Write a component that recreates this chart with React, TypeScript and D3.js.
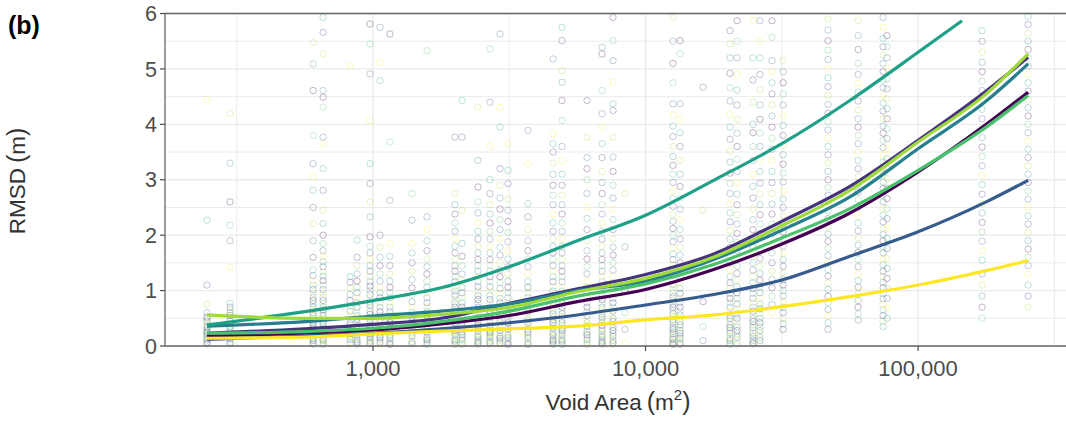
import React from 'react';
import * as d3 from 'd3';

const W = 1066;
const H = 424;

// ---- smooth-line data (x = void area m², y = RMSD m) ----
const lineAreas = [246, 562, 1000, 1778, 3162, 5623, 10000, 17783, 31623, 56234, 100000, 177828, 253500];
const tealAreas = [246, 562, 1000, 1778, 3162, 5623, 10000, 17783, 31623, 56234, 100000, 145000];

const rmsdS1 = [0.18, 0.23, 0.29, 0.40, 0.55, 0.80, 1.02, 1.38, 1.84, 2.40, 3.14, 4.00, 4.58];
const rmsdS2 = [0.23, 0.31, 0.39, 0.50, 0.77, 1.03, 1.29, 1.66, 2.25, 2.88, 3.71, 4.60, 5.21];
const rmsdS3 = [0.12, 0.18, 0.23, 0.31, 0.42, 0.56, 0.74, 0.93, 1.19, 1.62, 2.06, 2.60, 2.99];
const rmsdS4 = [0.36, 0.44, 0.54, 0.63, 0.76, 1.00, 1.17, 1.56, 2.09, 2.69, 3.56, 4.42, 5.09];
const rmsdS5 = [0.38, 0.62, 0.82, 1.05, 1.43, 1.90, 2.36, 2.99, 3.65, 4.43, 5.30, 5.87];
const rmsdS6 = [0.23, 0.26, 0.32, 0.44, 0.63, 0.90, 1.12, 1.47, 1.95, 2.48, 3.17, 3.95, 4.52];
const rmsdS7 = [0.56, 0.50, 0.50, 0.57, 0.70, 0.98, 1.22, 1.60, 2.17, 2.81, 3.68, 4.55, 5.27];
const rmsdS8 = [0.14, 0.16, 0.22, 0.27, 0.31, 0.36, 0.47, 0.56, 0.71, 0.89, 1.10, 1.36, 1.54];

const seriesValues = [rmsdS1, rmsdS2, rmsdS3, rmsdS4, rmsdS5, rmsdS6, rmsdS7, rmsdS8];
const seriesAreas = [lineAreas, lineAreas, lineAreas, lineAreas, tealAreas, lineAreas, lineAreas, lineAreas];
const seriesColors = ['#440154', '#46337E', '#365C8D', '#277F8E', '#1FA187', '#4AC16D', '#9FDA3A', '#FDE725'];

// ---- scatter columns (observations) ----
const scatterAreas = [246, 299, 603, 656, 824, 874, 975, 1061, 1154, 1390, 1578, 1999, 2122, 2428, 2686, 2923, 3129, 3703,
  4577, 4939, 6100, 6925, 7598, 8405, 12612, 13390, 16256, 20420, 21670, 24790, 26300, 29110, 31970, 46770, 60260,
  74430, 76940, 171800, 253500];
const scatterValues = [
  [0.04, 0.07, 0.1, 0.12, 0.15, 0.17, 0.2, 0.23, 0.25, 0.28, 0.3, 0.33, 0.36, 0.4, 0.44, 0.48, 0.52, 0.6, 0.75, 1.1, 2.27, 4.45],
  [0.04, 0.07, 0.1, 0.13, 0.16, 0.2, 0.24, 0.28, 0.32, 0.36, 0.4, 0.45, 0.5, 0.55, 0.6, 0.65, 0.7, 0.77, 1.42, 1.9, 2.18, 2.6, 3.3, 4.2],
  [0.03, 0.06, 0.1, 0.13, 0.16, 0.2, 0.24, 0.28, 0.32, 0.36, 0.4, 0.45, 0.5, 0.55, 0.6, 0.65, 0.7, 0.76, 0.82, 0.88, 0.95, 1.02, 1.1, 1.18, 1.27, 1.37, 1.6, 1.9, 2.21, 2.5, 2.81, 3.05, 3.29, 3.8, 4.61, 5.09, 5.48],
  [0.03, 0.06, 0.1, 0.13, 0.16, 0.2, 0.24, 0.28, 0.32, 0.36, 0.4, 0.45, 0.5, 0.55, 0.6, 0.65, 0.7, 0.76, 0.82, 0.88, 0.95, 1.02, 1.1, 1.18, 1.26, 1.34, 1.43, 1.52, 1.62, 1.72, 1.85, 2.0, 2.21, 2.45, 2.81, 3.2, 3.65, 3.77, 4.31, 4.49, 4.61, 5.27, 5.66, 5.93],
  [0.04, 0.08, 0.12, 0.17, 0.22, 0.28, 0.34, 0.4, 0.47, 0.55, 0.63, 0.72, 0.82, 0.93, 1.05, 1.15, 1.25, 5.06],
  [0.03, 0.07, 0.11, 0.15, 0.2, 0.25, 0.3, 0.36, 0.42, 0.48, 0.55, 0.62, 0.7, 0.78, 0.87, 0.96, 1.06, 1.17, 1.3, 1.45, 1.6, 1.91],
  [0.03, 0.06, 0.09, 0.12, 0.15, 0.18, 0.22, 0.26, 0.3, 0.34, 0.38, 0.42, 0.47, 0.52, 0.57, 0.62, 0.68, 0.74, 0.8, 0.86, 0.93, 1.0, 1.08, 1.16, 1.25, 1.35, 1.45, 1.56, 1.68, 1.8, 1.97, 2.33, 2.6, 2.93, 3.29, 4.07, 4.91, 5.45, 5.81],
  [0.03, 0.07, 0.11, 0.15, 0.2, 0.25, 0.3, 0.36, 0.42, 0.48, 0.55, 0.62, 0.7, 0.78, 0.87, 0.96, 1.06, 1.17, 1.3, 1.45, 1.6, 1.78, 2.0, 4.79, 5.12, 5.75],
  [0.03, 0.07, 0.11, 0.15, 0.2, 0.25, 0.3, 0.36, 0.42, 0.48, 0.55, 0.62, 0.7, 0.78, 0.87, 0.96, 1.06, 1.17, 1.3, 1.45, 1.62, 1.85, 2.63, 3.68, 5.63],
  [0.04, 0.08, 0.13, 0.18, 0.24, 0.3, 0.37, 0.44, 0.52, 0.6, 0.7, 0.8, 0.92, 1.05, 1.2, 1.35, 1.5, 1.68, 1.85, 2.27, 2.75],
  [0.03, 0.07, 0.11, 0.15, 0.2, 0.25, 0.3, 0.36, 0.42, 0.48, 0.55, 0.62, 0.7, 0.78, 0.87, 0.96, 1.06, 1.17, 1.3, 1.43, 1.57, 1.72, 1.9, 2.1, 2.33, 5.33],
  [0.03, 0.06, 0.09, 0.12, 0.16, 0.2, 0.24, 0.28, 0.32, 0.37, 0.42, 0.47, 0.52, 0.58, 0.64, 0.7, 0.77, 0.84, 0.91, 0.99, 1.07, 1.16, 1.25, 1.35, 1.45, 1.56, 1.68, 1.8, 1.93, 2.07, 2.22, 2.38, 2.55, 2.75, 3.77],
  [0.03, 0.07, 0.11, 0.15, 0.2, 0.25, 0.3, 0.36, 0.42, 0.48, 0.55, 0.62, 0.7, 0.78, 0.87, 0.96, 1.06, 1.17, 1.3, 1.45, 1.62, 1.85, 2.45, 3.77, 4.43],
  [0.03, 0.06, 0.09, 0.12, 0.16, 0.2, 0.24, 0.28, 0.32, 0.37, 0.42, 0.47, 0.52, 0.58, 0.64, 0.7, 0.77, 0.84, 0.91, 0.99, 1.07, 1.16, 1.25, 1.35, 1.45, 1.56, 1.68, 1.8, 1.93, 2.07, 2.22, 2.4, 2.6, 2.87, 3.35, 4.31],
  [0.03, 0.06, 0.09, 0.12, 0.16, 0.2, 0.24, 0.28, 0.32, 0.37, 0.42, 0.47, 0.52, 0.58, 0.64, 0.7, 0.77, 0.84, 0.91, 0.99, 1.07, 1.16, 1.25, 1.35, 1.45, 1.56, 1.68, 1.8, 1.93, 2.07, 2.22, 2.38, 2.55, 2.75, 3.0, 3.6, 4.4, 5.36],
  [0.03, 0.06, 0.1, 0.14, 0.18, 0.23, 0.28, 0.33, 0.38, 0.44, 0.5, 0.56, 0.63, 0.7, 0.78, 0.86, 0.95, 1.04, 1.14, 1.25, 1.37, 1.5, 1.64, 1.78, 1.93, 2.1, 2.28, 2.47, 2.67, 2.9, 3.2, 3.95, 4.31, 5.63],
  [0.03, 0.07, 0.11, 0.15, 0.2, 0.25, 0.3, 0.36, 0.42, 0.48, 0.55, 0.62, 0.7, 0.78, 0.87, 0.96, 1.06, 1.17, 1.3, 1.43, 1.57, 1.72, 1.88, 2.05, 2.25, 2.45, 2.65, 2.93, 3.17, 3.65],
  [0.03, 0.07, 0.11, 0.15, 0.2, 0.25, 0.3, 0.36, 0.42, 0.48, 0.55, 0.62, 0.7, 0.78, 0.87, 0.96, 1.06, 1.17, 1.3, 1.43, 1.57, 1.72, 1.9, 2.1, 2.33, 2.57, 3.29, 3.89],
  [0.03, 0.06, 0.09, 0.12, 0.16, 0.2, 0.24, 0.28, 0.32, 0.37, 0.42, 0.47, 0.52, 0.58, 0.64, 0.7, 0.77, 0.84, 0.91, 0.99, 1.07, 1.16, 1.25, 1.35, 1.45, 1.56, 1.68, 1.8, 1.93, 2.07, 2.22, 2.38, 2.55, 2.72, 2.9, 3.1, 3.3, 3.5, 3.65, 3.83, 5.18],
  [0.03, 0.06, 0.09, 0.12, 0.16, 0.2, 0.24, 0.28, 0.32, 0.37, 0.42, 0.47, 0.52, 0.58, 0.64, 0.7, 0.77, 0.84, 0.91, 0.99, 1.07, 1.16, 1.25, 1.35, 1.45, 1.56, 1.68, 1.8, 1.93, 2.07, 2.22, 2.38, 2.55, 2.72, 2.9, 3.1, 3.35, 3.6, 4.07, 4.43, 4.76, 4.97, 5.51, 5.75],
  [0.03, 0.07, 0.11, 0.15, 0.2, 0.25, 0.3, 0.36, 0.42, 0.48, 0.55, 0.62, 0.7, 0.78, 0.87, 0.96, 1.06, 1.17, 1.3, 1.43, 1.57, 1.72, 1.9, 2.1, 2.3, 2.5, 2.75, 3.0, 3.2, 3.4, 3.77, 4.43],
  [0.03, 0.06, 0.09, 0.12, 0.16, 0.2, 0.24, 0.28, 0.32, 0.37, 0.42, 0.47, 0.52, 0.58, 0.64, 0.7, 0.77, 0.84, 0.91, 0.99, 1.07, 1.16, 1.25, 1.35, 1.45, 1.56, 1.68, 1.8, 1.93, 2.07, 2.22, 2.38, 2.55, 2.75, 2.95, 3.15, 3.4, 3.65, 3.95, 4.19, 4.61, 5.27, 5.39],
  [0.03, 0.06, 0.1, 0.14, 0.18, 0.23, 0.28, 0.33, 0.38, 0.44, 0.5, 0.56, 0.63, 0.7, 0.78, 0.86, 0.95, 1.04, 1.14, 1.25, 1.37, 1.5, 1.64, 1.78, 1.93, 2.1, 2.28, 2.47, 2.67, 2.9, 3.15, 3.41, 3.77, 4.25, 4.37, 4.76, 5.15, 5.51, 5.93],
  [0.05, 0.3, 0.6, 1.0, 1.79, 2.75],
  [0.03, 0.06, 0.09, 0.12, 0.15, 0.18, 0.22, 0.26, 0.3, 0.34, 0.38, 0.43, 0.48, 0.53, 0.58, 0.64, 0.7, 0.76, 0.82, 0.89, 0.96, 1.03, 1.11, 1.19, 1.28, 1.37, 1.46, 1.56, 1.66, 1.77, 1.88, 2.0, 2.12, 2.25, 2.38, 2.52, 2.66, 2.8, 2.95, 3.1, 3.26, 3.42, 3.6, 3.78, 3.97, 4.17, 4.37, 4.75, 5.1, 5.5, 5.93],
  [0.03, 0.06, 0.1, 0.14, 0.18, 0.23, 0.28, 0.33, 0.38, 0.44, 0.5, 0.56, 0.63, 0.7, 0.78, 0.86, 0.95, 1.04, 1.14, 1.25, 1.37, 1.5, 1.64, 1.78, 1.93, 2.1, 2.28, 2.47, 2.67, 2.88, 3.1, 3.35, 3.6, 3.85, 4.1, 4.37, 5.27, 5.51],
  [0.1, 0.35, 0.8, 1.5, 2.45, 4.67],
  [0.03, 0.06, 0.1, 0.14, 0.18, 0.23, 0.28, 0.33, 0.38, 0.44, 0.5, 0.56, 0.63, 0.7, 0.78, 0.86, 0.95, 1.04, 1.14, 1.25, 1.37, 1.5, 1.64, 1.78, 1.93, 2.08, 2.24, 2.4, 2.57, 2.75, 2.93, 3.12, 3.32, 3.52, 3.73, 3.95, 4.18, 4.42, 4.66, 4.92, 5.2, 5.45, 5.69],
  [0.04, 0.1, 0.16, 0.22, 0.28, 0.35, 0.42, 0.5, 0.58, 0.67, 0.76, 0.86, 0.96, 1.07, 1.19, 1.31, 1.44, 1.58, 1.72, 1.87, 2.03, 2.2, 2.37, 2.55, 2.74, 2.94, 3.15, 3.37, 3.6, 3.84, 4.09, 4.35, 4.62, 4.9, 5.2, 5.5, 5.87],
  [0.03, 0.06, 0.1, 0.14, 0.18, 0.23, 0.28, 0.33, 0.38, 0.44, 0.5, 0.56, 0.63, 0.7, 0.78, 0.86, 0.95, 1.04, 1.14, 1.25, 1.37, 1.5, 1.64, 1.78, 1.93, 2.1, 2.28, 2.47, 2.67, 2.88, 3.1, 3.35, 3.6, 3.85, 4.0, 4.4, 4.8, 5.2, 5.87],
  [0.04, 0.1, 0.16, 0.22, 0.28, 0.35, 0.42, 0.5, 0.58, 0.67, 0.76, 0.86, 0.96, 1.07, 1.19, 1.31, 1.44, 1.58, 1.72, 1.87, 2.03, 2.2, 2.37, 2.55, 2.74, 2.94, 3.15, 3.37, 3.6, 3.84, 4.09, 4.35, 4.62, 4.9, 5.2, 5.5, 5.87],
  [0.6, 0.75, 0.9, 1.05, 1.2, 1.35, 1.5, 1.68, 1.85, 2.02, 2.2, 2.38, 2.56, 2.75, 2.95, 3.15, 3.35, 3.55, 3.75, 3.95, 4.15, 4.35, 4.55, 4.75, 4.95, 5.15, 5.57, 5.87],
  [0.3, 0.4, 0.5, 0.6, 0.7, 0.8, 0.9, 1.0, 1.1, 1.2, 1.32, 1.44, 1.56, 1.68, 1.8, 1.93, 2.06, 2.2, 2.35, 2.5, 2.65, 2.8, 2.96, 3.12, 3.28, 3.45, 3.62, 3.8, 3.98, 4.16, 4.35, 4.55, 4.75, 4.95, 5.15],
  [0.3, 0.42, 0.54, 0.66, 0.78, 0.9, 1.02, 1.14, 1.26, 1.38, 1.5, 1.63, 1.76, 1.89, 2.02, 2.16, 2.3, 2.44, 2.58, 2.72, 2.86, 3.0, 3.15, 3.3, 3.45, 3.6, 3.75, 3.9, 4.05, 4.2, 4.36, 4.52, 4.68, 4.84, 5.0, 5.17, 5.34, 5.51, 5.7, 5.9],
  [0.47, 0.58, 0.7, 0.82, 0.94, 1.06, 1.18, 1.3, 1.43, 1.56, 1.69, 1.82, 1.95, 2.08, 2.22, 2.36, 2.5, 2.64, 2.78, 2.92, 3.06, 3.2, 3.35, 3.5, 3.65, 3.8, 3.95, 4.1, 4.26, 4.42, 4.58, 4.74, 4.9, 5.1, 5.35, 5.6, 5.87],
  [0.35, 0.45, 0.55, 0.65, 0.75, 0.85, 0.95, 1.05, 1.15, 1.25, 1.35, 1.46, 1.57, 1.68, 1.79, 1.9, 2.01, 2.12, 2.24, 2.36, 2.48, 2.6, 2.72, 2.84, 2.96, 3.08, 3.2, 3.32, 3.45, 3.58, 3.71, 3.84, 3.97, 4.1, 4.24, 4.38, 4.52, 4.66, 4.8, 4.95, 5.1, 5.25, 5.4, 5.55, 5.75, 5.93],
  [0.5, 0.68, 0.86, 1.04, 1.22, 1.4, 1.58, 1.76, 1.94, 2.12, 2.3, 2.48, 2.66, 2.84, 3.02, 3.2, 3.38, 3.56, 3.74, 3.92, 4.1, 4.28, 4.46, 4.64, 4.82, 5.0, 5.2, 5.4, 5.6],
  [0.5, 0.7, 0.9, 1.1, 1.3, 1.55, 1.72, 1.89, 2.06, 2.23, 2.4, 2.57, 2.74, 2.91, 3.08, 3.25, 3.42, 3.59, 3.76, 3.93, 4.1, 4.27, 4.44, 4.61, 4.78, 4.95, 5.12, 5.3, 5.5, 5.69],
  [0.7, 0.9, 1.1, 1.3, 1.45, 1.6, 1.75, 1.9, 2.05, 2.2, 2.35, 2.5, 2.65, 2.8, 2.95, 3.1, 3.25, 3.4, 3.55, 3.7, 3.85, 4.0, 4.15, 4.3, 4.45, 4.6, 4.75, 4.9, 5.05, 5.2, 5.35, 5.5, 5.65, 5.8, 5.95],
];

// ---- axes ----
const xTickValues = [1000, 10000, 100000];
const xTickLabels = ['1,000', '10,000', '100,000'];
const xMinorValues = [316.23, 3162.3, 31623, 316228];
const yTickValues = [0, 1, 2, 3, 4, 5, 6];
const yMinorValues = [0.5, 1.5, 2.5, 3.5, 4.5, 5.5];

const FONT = '"Liberation Sans", Arial, Helvetica, sans-serif';

export default function App() {
  const left = 165;
  const right = 1068;
  const x = d3.scaleLog().domain([172.5, 349000]).range([165, 1066]);
  const y = d3.scaleLinear().domain([0, 6]).range([346, 13.5]);
  const bottom = y(0);
  const top = y(6);

  const line = d3
    .line<[number, number]>()
    .x((d) => x(d[0]))
    .y((d) => y(d[1]))
    .curve(d3.curveMonotoneX);

  const grid = '#ebebeb';
  const axisCol = '#4d4d4d';

  return (
    <div style={{ position: 'absolute', left: 0, top: 0 }}>
      <svg width={W} height={H} style={{ display: 'block', fontFamily: FONT }}>
        <rect x={0} y={0} width={W} height={H} fill="#ffffff" />
        {/* grid */}
        {yMinorValues.map((v) => (
          <line key={'ym' + v} x1={left} x2={right} y1={y(v)} y2={y(v)} stroke={grid} strokeWidth={1} />
        ))}
        {yTickValues.map((v) => (
          <line key={'yg' + v} x1={left} x2={right} y1={y(v)} y2={y(v)} stroke={grid} strokeWidth={1.4} />
        ))}
        {xMinorValues.map((v) => (
          <line key={'xm' + v} x1={x(v)} x2={x(v)} y1={top} y2={bottom} stroke={grid} strokeWidth={1} />
        ))}
        {xTickValues.map((v) => (
          <line key={'xg' + v} x1={x(v)} x2={x(v)} y1={top} y2={bottom} stroke={grid} strokeWidth={1.4} />
        ))}

        {/* scatter */}
        <g fill="none" strokeWidth={1}>
          {scatterAreas.map((a, ci) =>
            scatterValues[ci].map((v, pi) => (
              <circle
                key={ci + '-' + pi}
                cx={x(a)}
                cy={y(v)}
                r={3.2}
                stroke={seriesColors[(pi * 3 + ci) % seriesColors.length]}
                strokeOpacity={0.3}
              />
            ))
          )}
        </g>

        {/* smooth lines */}
        {seriesValues.map((vals, si) => {
          const pts = vals.map((v, i) => [seriesAreas[si][i], v] as [number, number]);
          return (
            <path
              key={'s' + si}
              d={line(pts) || ''}
              fill="none"
              stroke={seriesColors[si]}
              strokeWidth={3.2}
              strokeLinecap="butt"
            />
          );
        })}

        {/* panel border */}
        <line x1={left} x2={right} y1={top} y2={top} stroke="#666" strokeWidth={1.3} />
        <line x1={left} x2={right} y1={bottom} y2={bottom} stroke="#666" strokeWidth={1.3} />
        <line x1={left} x2={left} y1={top} y2={bottom} stroke="#666" strokeWidth={1.3} />

        {/* y axis ticks */}
        {yTickValues.map((v) => (
          <g key={'yt' + v}>
            <line x1={left - 5} x2={left} y1={y(v)} y2={y(v)} stroke={axisCol} strokeWidth={1.2} />
            <text x={left - 8} y={y(v)} dy="0.36em" textAnchor="end" fontSize={21.5} fill={axisCol}>
              {v}
            </text>
          </g>
        ))}
        {/* x axis ticks */}
        {xTickValues.map((v, i) => (
          <g key={'xt' + v}>
            <line x1={x(v)} x2={x(v)} y1={bottom} y2={bottom + 5} stroke={axisCol} strokeWidth={1.2} />
            <text x={x(v)} y={376} textAnchor="middle" fontSize={22} fill={axisCol}>
              {xTickLabels[i]}
            </text>
          </g>
        ))}

        {/* titles */}
        <text x={618} y={410} textAnchor="middle" fontSize={22.5} fill="#333">
          Void Area
          <tspan fontSize={25} dx={5}>(</tspan>
          <tspan>m</tspan>
          <tspan fontSize={15} dy={-10}>2</tspan>
          <tspan fontSize={25} dy={10}>)</tspan>
        </text>
        <text transform="translate(25,181) rotate(-90)" textAnchor="middle" fontSize={22.5} fill="#333">
          RMSD
          <tspan fontSize={25} dx={5}>(</tspan>
          <tspan>m</tspan>
          <tspan fontSize={25}>)</tspan>
        </text>
        <text x={8} y={34} fontSize={25} fontWeight="bold" fill="#000">
          (b)
        </text>
      </svg>
    </div>
  );
}
